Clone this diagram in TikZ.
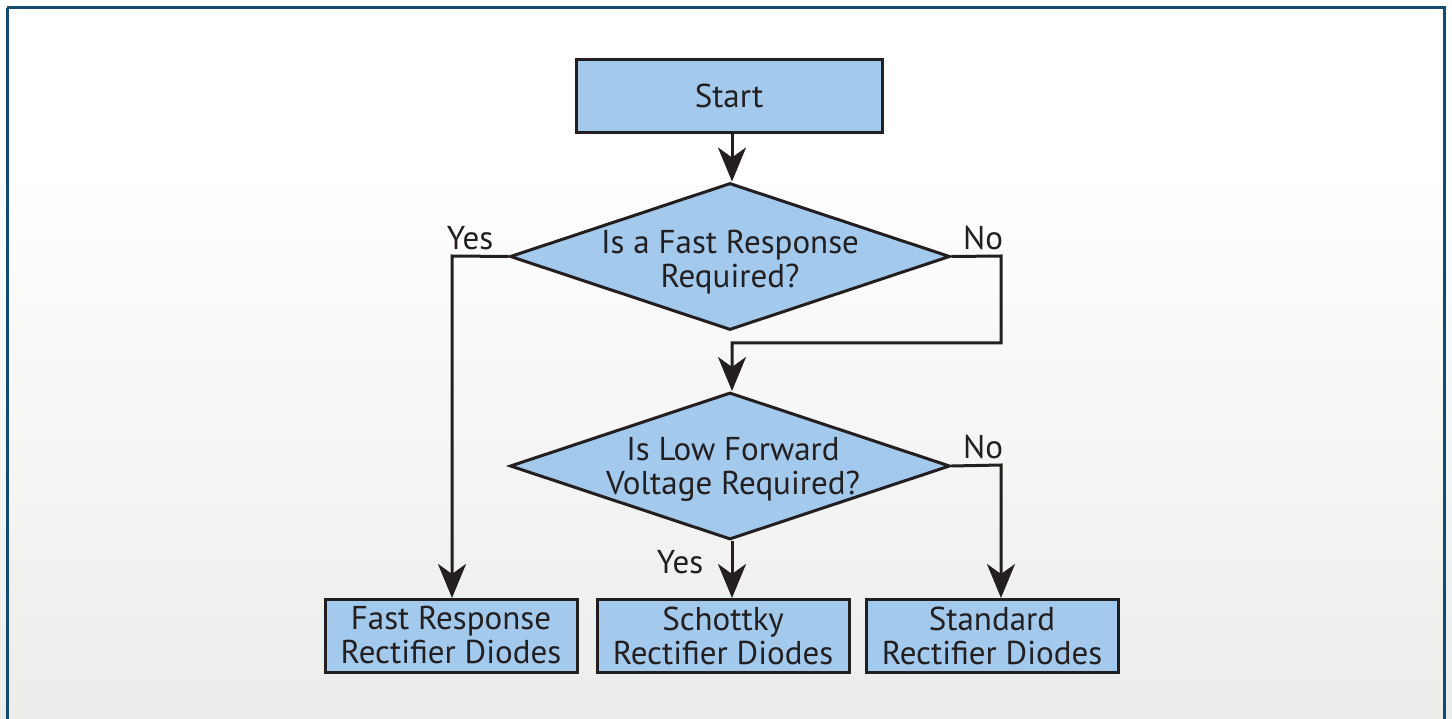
\documentclass[tikz,border=0pt]{standalone}
\usepackage{fontspec}
\setmainfont{PT Sans}
\usetikzlibrary{shapes.geometric,arrows.meta}
\definecolor{boxblue}{RGB}{163,201,236}
\definecolor{frameblue}{RGB}{22,74,108}
\definecolor{bggray}{RGB}{236,236,235}
\definecolor{inkc}{RGB}{35,31,32}
\begin{document}
\begin{tikzpicture}[x=1pt,y=-1pt,
  every node/.style={font=\fontsize{33}{34}\selectfont, text=inkc, align=center},
  procbox/.style={draw=inkc, line width=3pt, fill=boxblue, minimum width=#1, minimum height=73pt, inner sep=0pt},
  decision/.style={draw=inkc, line width=3pt, fill=boxblue, diamond, minimum width=440pt, minimum height=147pt, aspect=3, inner sep=0pt},
  flow/.style={draw=inkc, line width=3pt, -{Stealth[length=34pt, width=28pt, inset=10pt]}},
  lbl/.style={inner sep=0pt}]
\useasboundingbox (0,0) rectangle (1452,719);
% background
\fill[white] (0,0) rectangle (1452,719);
\shade[top color=white, bottom color=bggray] (0,170) rectangle (1452,719);
\draw[frameblue, line width=3pt] (7,8) -- (1444,8) -- (1444,730) (7,8) -- (7,730);
% nodes
\node[procbox=306pt] (start) at (729,96) {Start};
\node[decision] (d1) at (730,256.5) {};
\node at (730,262) (d1t) {Is a Fast Response\\Required?};
\node[decision] (d2) at (730,466) {};
\node at (733,469) (d2t) {Is Low Forward\\Voltage Required?};
\node[procbox=252pt] (fast) at (451,635.5) {Fast Response\\Rectifier Diodes};
\node[procbox=252pt] (schott) at (723,635.5) {Schottky\\Rectifier Diodes};
\node[procbox=252pt] (std) at (992,635.5) {Standard\\Rectifier Diodes};
\coordinate (c1) at (452,256);
\coordinate (c2) at (1001,256);
\coordinate (c3) at (1001,343);
\coordinate (c4) at (732,343);
\coordinate (c5) at (1001,465);
% connectors
\draw[flow] (start.south -| 732,0) -- (d1.north -| 732,0);
\draw[flow] (d1.west) -- (c1) -- (452,598);
\draw[flow] (d1.east) -- (c2) -- (c3) -- (c4) -- (d2.north -| 732,0);
\draw[flow] (d2.south -| 732,0) -- (732,598);
\draw[flow] (d2.east) -- (c5) -- (1001,598);
% labels
\node[lbl] at (470,238) {Yes};
\node[lbl] at (983,238) {No};
\node[lbl] at (983,447) {No};
\node[lbl] at (680,562) {Yes};
\end{tikzpicture}
\end{document}
